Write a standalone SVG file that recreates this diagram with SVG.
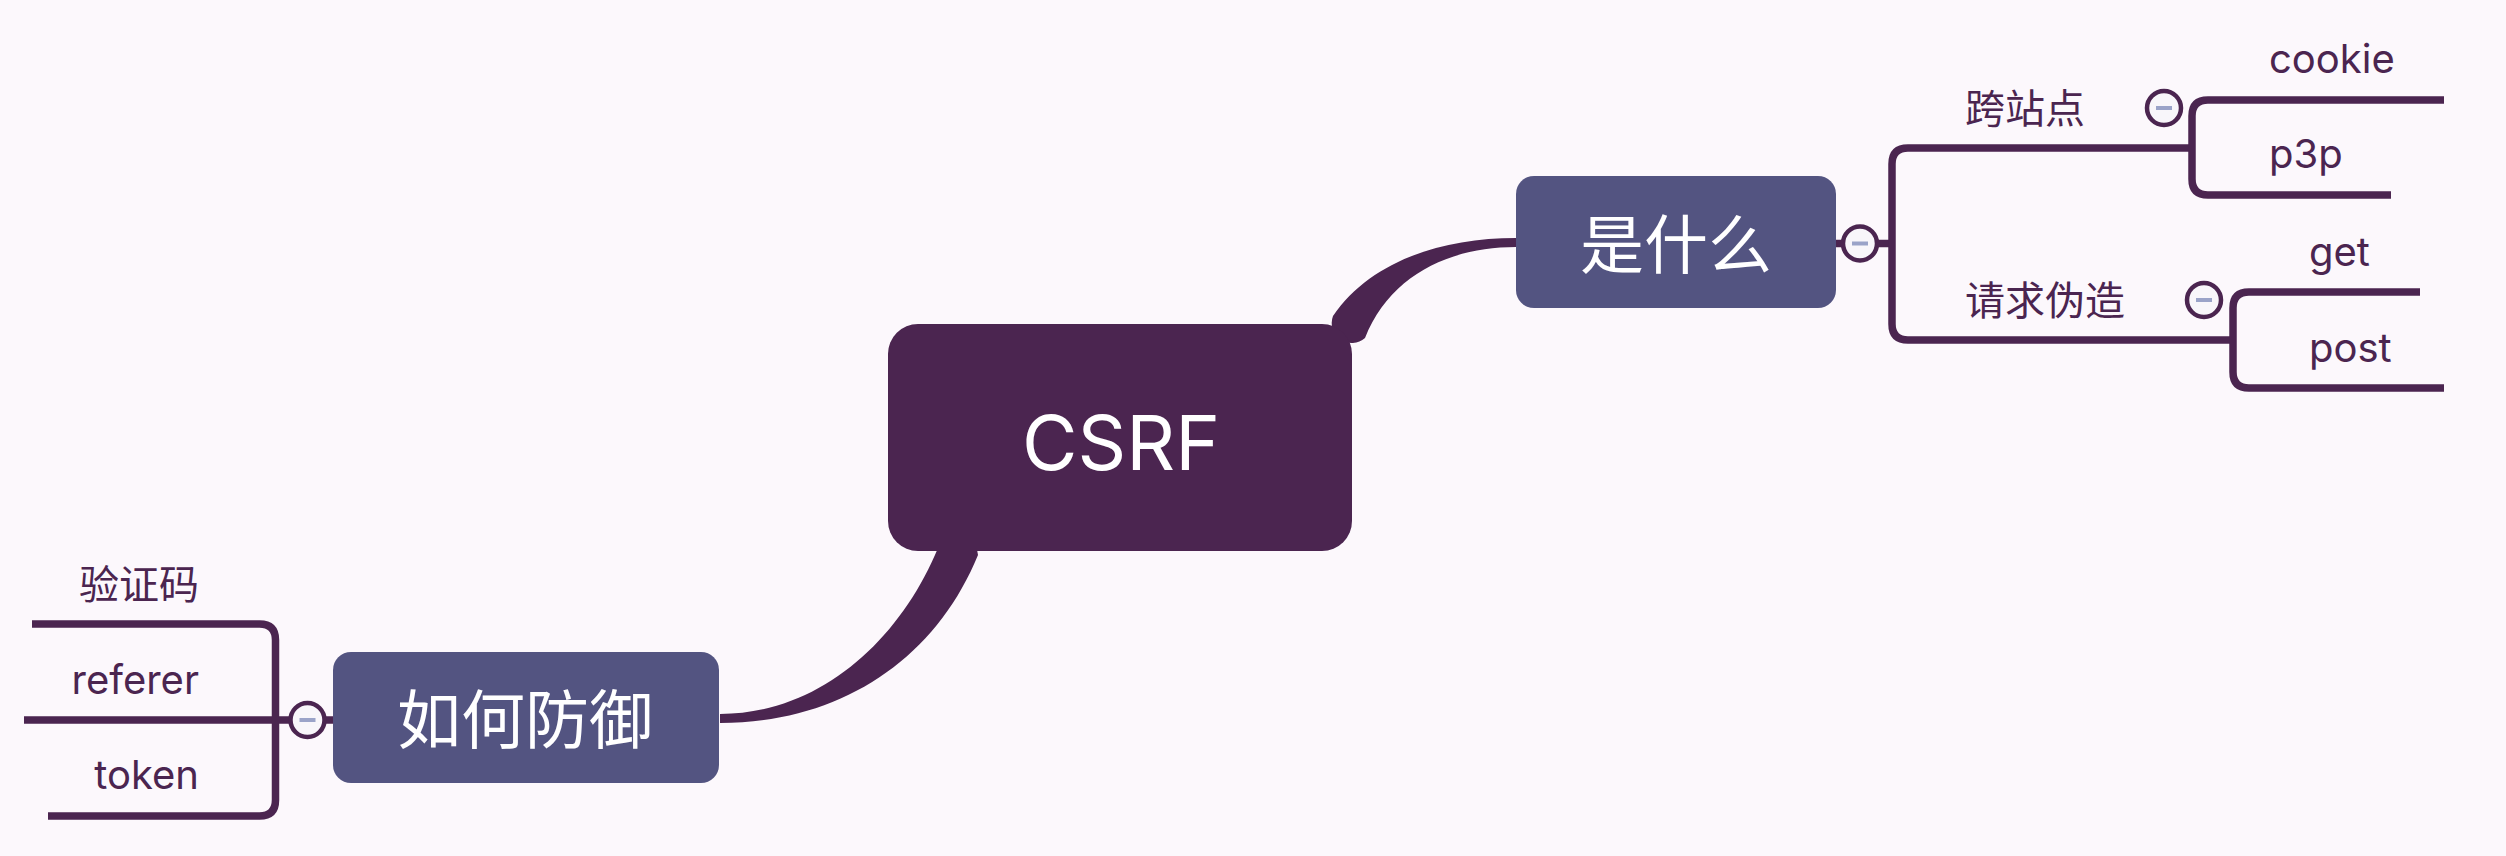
<svg xmlns="http://www.w3.org/2000/svg" width="2506" height="856" viewBox="0 0 2506 856">
<style>
.bg{fill:#fcf8fc}
.line{fill:none;stroke:#4b2550;stroke-width:7.5;stroke-linecap:butt;stroke-linejoin:round}
.branch{fill:#4b2550}
.root{fill:#4b2550}
.main{fill:#535481}
.rootText{font-family:Inter,"Liberation Sans","Noto Sans CJK SC",sans-serif;font-size:76px;fill:#ffffff;text-anchor:middle}
.mainText{font-family:"Noto Sans CJK SC",sans-serif;font-size:64px;fill:#ffffff;text-anchor:middle}
.sub{font-family:"Noto Sans CJK SC",sans-serif;font-size:40px;fill:#4b2550}
.leaf{font-family:Inter,"Liberation Sans","Noto Sans CJK SC",sans-serif;font-size:40px;fill:#4b2550}
.btn circle{fill:#f8f6fa;stroke:#4b2550;stroke-width:4.5}
.btn rect{fill:#9aa3c8}
</style>
<rect class="bg" x="0" y="0" width="2506" height="856"/>
<g id="connectors">
<path class="branch" d="M1516,238 C1440,238 1370,262 1333,316 A20,20 0 0 0 1365,338 C1390,275 1450,247 1516,247 Z"/>
<path class="branch" d="M720,714 C820,714 900,640 938,548 A21,21 0 0 1 978,555 C935,660 840,723 720,723 Z"/>
<path class="line" d="M1836,243.5 H1892"/>
<path class="line" d="M2192,148 H1908 Q1892,148 1892,164 V324 Q1892,340 1908,340 H2233"/>
<path class="line" d="M2444,100 H2208 Q2192,100 2192,116 V179 Q2192,195 2208,195 H2391"/>
<path class="line" d="M2420,292 H2249 Q2233,292 2233,308 V372 Q2233,388 2249,388 H2444"/>
<path class="line" d="M333,720 H24"/>
<path class="line" d="M32,624 H259.5 Q275.5,624 275.5,640 V800 Q275.5,816 259.5,816 H48"/>
</g>
<g id="node-csrf">
<rect class="root" x="888" y="324" width="464" height="227" rx="30" ry="30"/>
<text class="rootText" x="1121" y="470">CSRF</text>
</g>
<g id="node-what">
<rect class="main" x="1516" y="176" width="320" height="132" rx="18" ry="18"/>
<text class="mainText" x="1676" y="268">是什么</text>
</g>
<g id="node-defend">
<rect class="main" x="333" y="652" width="386" height="131" rx="18" ry="18"/>
<text class="mainText" x="525" y="743">如何防御</text>
</g>
<g id="btn-what" class="btn"><circle cx="1860" cy="243.5" r="17"/><rect x="1852" y="241.5" width="16" height="4"/></g>
<g id="btn-cross" class="btn"><circle cx="2164" cy="108" r="17"/><rect x="2156" y="106" width="16" height="4"/></g>
<g id="btn-forge" class="btn"><circle cx="2204" cy="300" r="17"/><rect x="2196" y="298" width="16" height="4"/></g>
<g id="btn-defend" class="btn"><circle cx="307.5" cy="720" r="17"/><rect x="299.5" y="718" width="16" height="4"/></g>
<g id="node-cross"><text class="sub" x="1965" y="123">跨站点</text></g>
<g id="node-forge"><text class="sub" x="1965" y="315">请求伪造</text></g>
<g id="node-cookie"><text class="leaf" x="2269" y="73">cookie</text></g>
<g id="node-p3p"><text class="leaf" x="2269" y="168">p3p</text></g>
<g id="node-get"><text class="leaf" x="2309" y="266">get</text></g>
<g id="node-post"><text class="leaf" x="2309" y="362">post</text></g>
<g id="node-captcha"><text class="sub" x="199" y="599" text-anchor="end">验证码</text></g>
<g id="node-referer"><text class="leaf" x="199" y="694" text-anchor="end">referer</text></g>
<g id="node-token"><text class="leaf" x="199" y="789" text-anchor="end">token</text></g>
</svg>
